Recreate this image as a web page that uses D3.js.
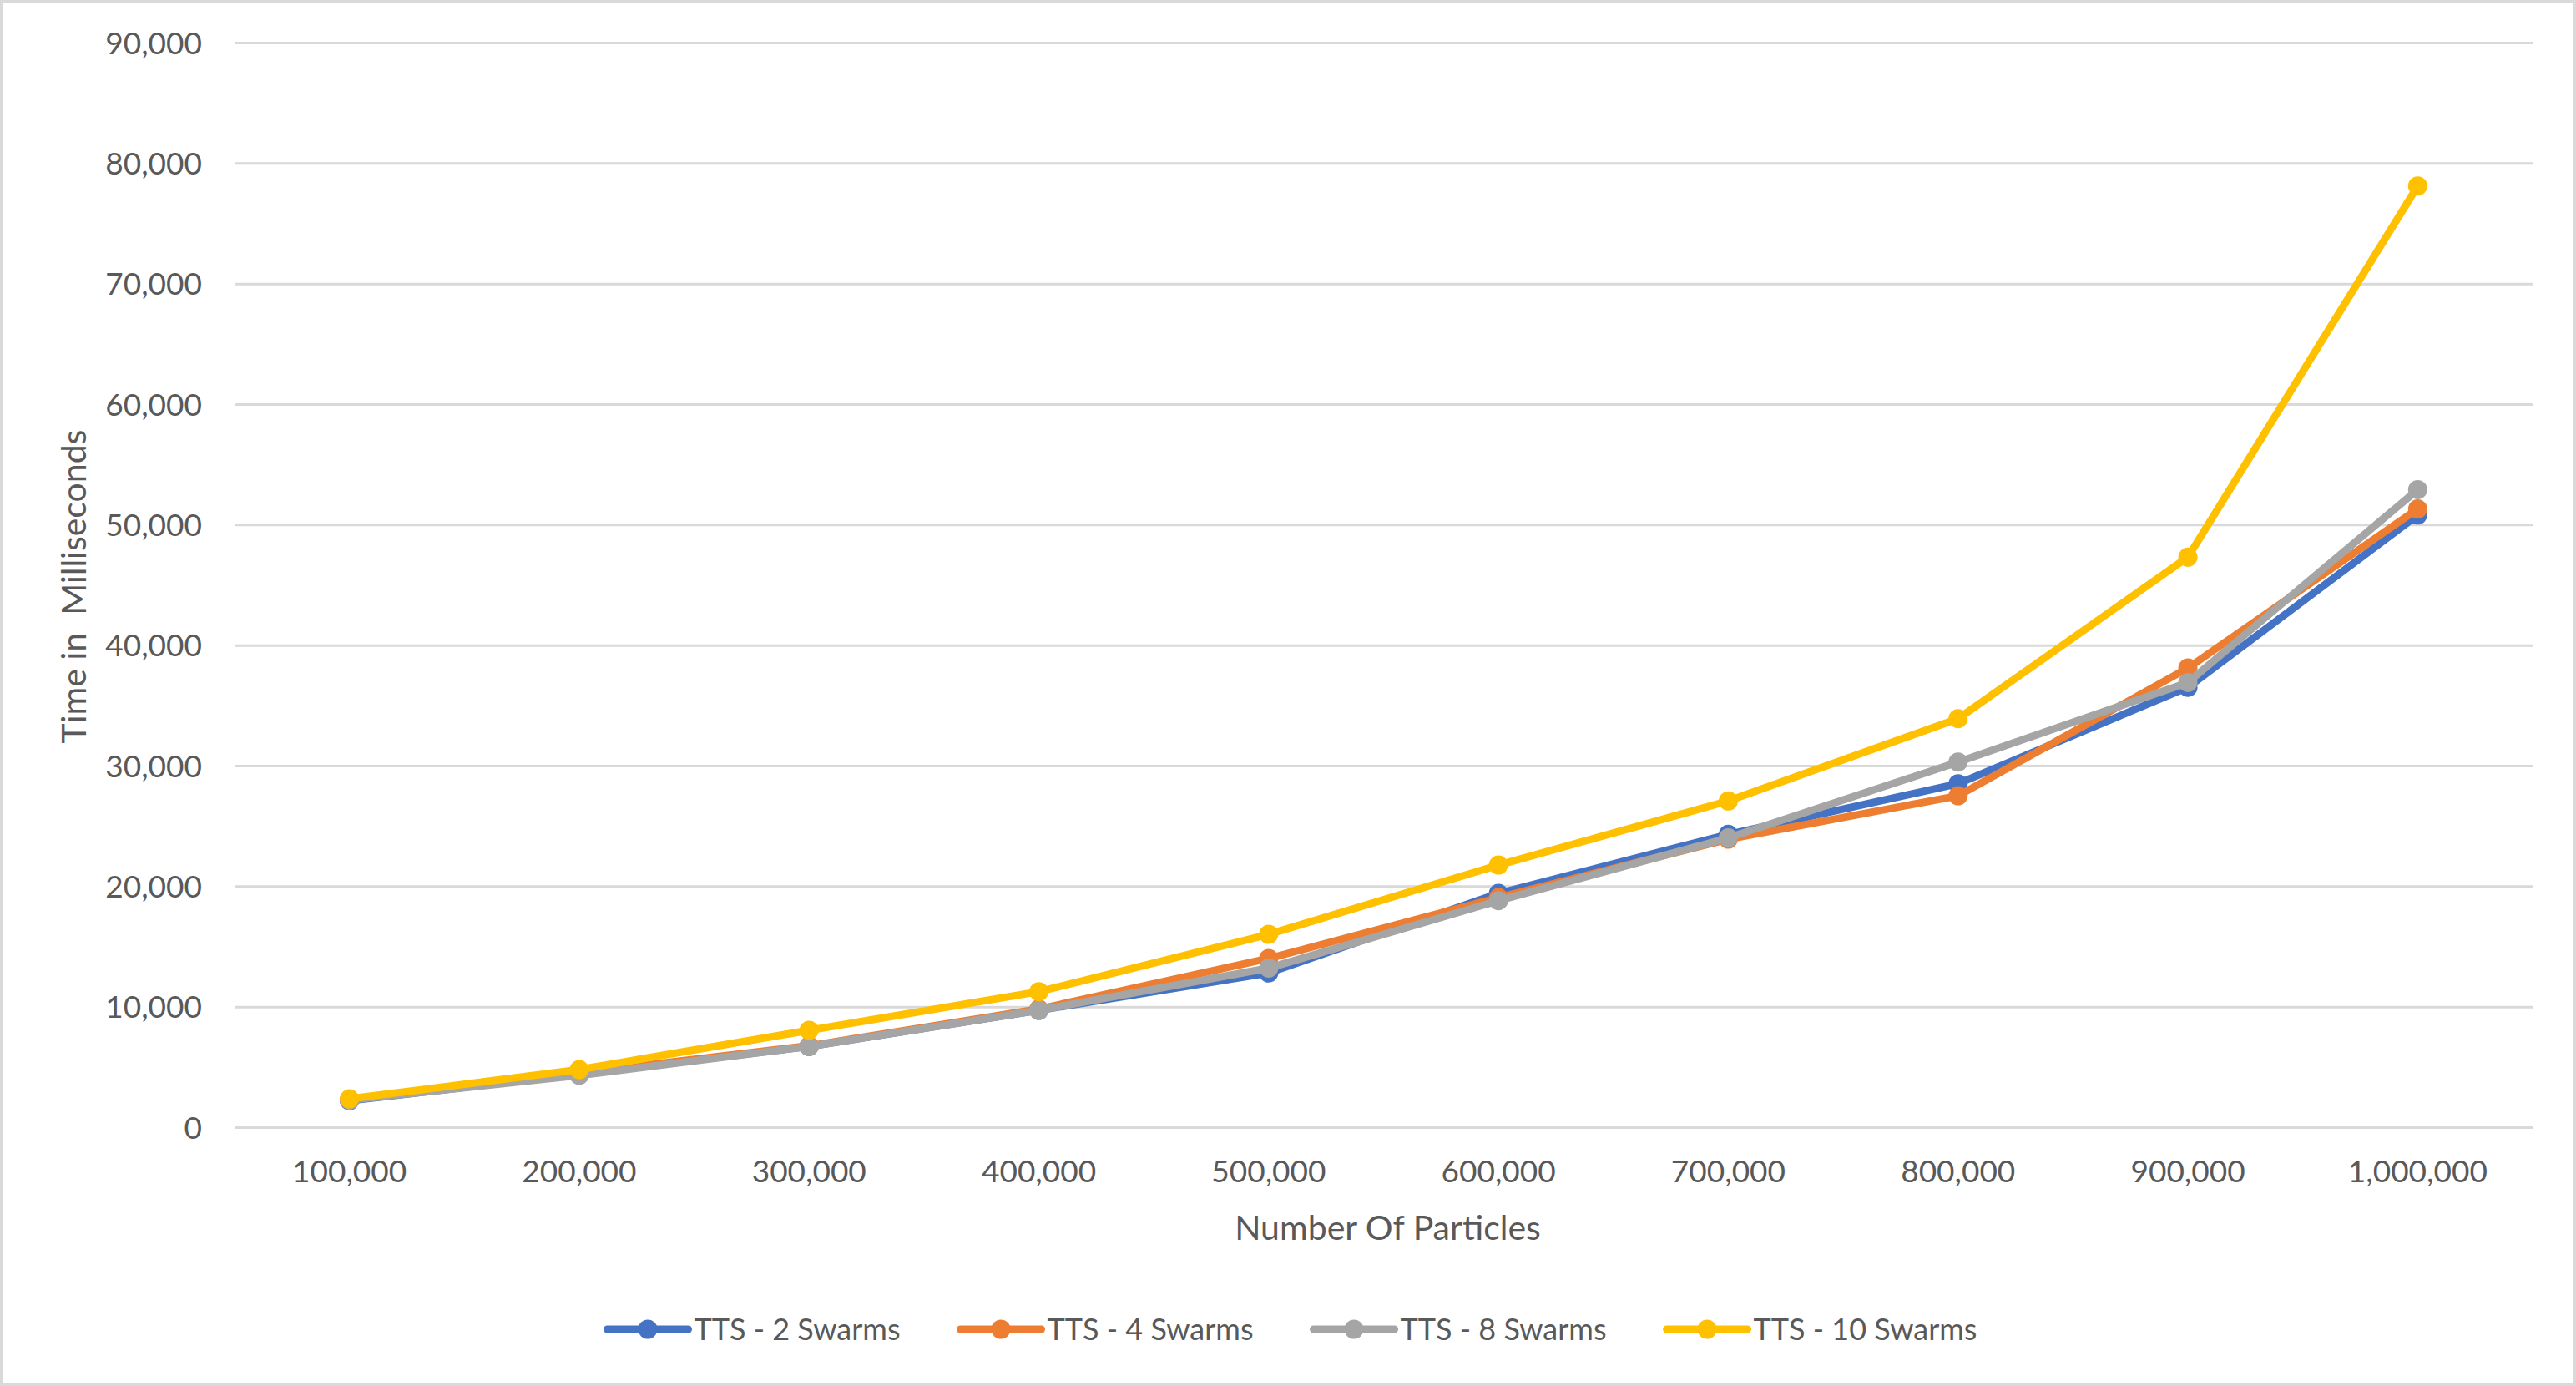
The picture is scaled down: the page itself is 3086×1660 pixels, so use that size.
<!DOCTYPE html>
<html lang="en">
<head>
  <meta charset="utf-8">
  <title>TTS swarms</title>
  <script src="https://d3js.org/d3.v7.min.js"></script>
  <style>
    body { margin: 0; background: #fff; }
    text { font-family: Lato, "Open Sans", sans-serif; fill: #595959; }
  </style>
</head>
<body>
<script type="text/javascript">
  var w = 3086;
  var h = 1660;

  // data
  var particles = ["100,000","200,000","300,000","400,000","500,000","600,000","700,000","800,000","900,000","1,000,000"];
  var tts2  = [2200, 4400, 6700, 9700, 12800, 19400, 24300, 28500, 36500, 50800];
  var tts4  = [2300, 4500, 6750, 9800, 14000, 19050, 23900, 27500, 38100, 51300];
  var tts8  = [2250, 4300, 6700, 9700, 13200, 18800, 24000, 30300, 36900, 52900];
  var tts10 = [2350, 4780, 8040, 11250, 16000, 21750, 27070, 33900, 47300, 78100];
  var seriesNames = ["TTS - 2 Swarms", "TTS - 4 Swarms", "TTS - 8 Swarms", "TTS - 10 Swarms"];
  var yTicks = [0, 10000, 20000, 30000, 40000, 50000, 60000, 70000, 80000, 90000];

  var colors = ["#4472C4", "#ED7D31", "#A5A5A5", "#FFC000"];
  var series = [tts2, tts4, tts8, tts10].map(function(vals, i){
    return { name: seriesNames[i], color: colors[i], values: vals };
  });

  var plotLeft = 281, plotRight = 3034, plotTop = 51, plotBottom = 1350;

  var svg = d3.select("body")
    .append("svg")
    .attr("width", w)
    .attr("height", h);

  svg.append("rect")
    .attr("x", 1.5).attr("y", 1.5)
    .attr("width", w - 3).attr("height", h - 3)
    .attr("fill", "#fff")
    .attr("stroke", "#d9d9d9")
    .attr("stroke-width", 3);

  var x = d3.scaleBand().domain(particles).range([plotLeft, plotRight]);
  var y = d3.scaleLinear().domain([0, 90000]).range([plotBottom, plotTop]);
  function cx(i){ return x(particles[i]) + x.bandwidth() / 2; }

  // gridlines + y labels
  var yAxis = svg.append("g")
    .attr("transform", "translate(" + plotLeft + ",0)")
    .call(d3.axisLeft(y).tickValues(yTicks).tickSize(-(plotRight - plotLeft)).tickPadding(39).tickFormat(d3.format(",")));
  yAxis.select(".domain").remove();
  yAxis.selectAll("line").attr("stroke", "#d9d9d9").attr("stroke-width", 3);
  yAxis.selectAll("text")
    .attr("font-size", "37px")
    .attr("dy", "0.36em")
    .style("fill", "#595959");

  // x labels
  var xAxis = svg.append("g")
    .attr("transform", "translate(0," + plotBottom + ")")
    .call(d3.axisBottom(x).tickSize(0));
  xAxis.select(".domain").remove();
  xAxis.selectAll("text")
    .attr("font-size", "37px")
    .attr("y", 66)
    .attr("dy", null)
    .style("fill", "#595959");

  // axis titles
  svg.append("text")
    .text("Number Of Particles")
    .attr("x", (plotLeft + plotRight) / 2 + 5)
    .attr("y", 1485)
    .attr("text-anchor", "middle")
    .attr("font-size", "41px");

  svg.append("text")
    .text("Time in  Milliseconds")
    .style("white-space", "pre")
    .attr("transform", "translate(103," + ((plotTop + plotBottom) / 2 + 2) + ") rotate(-90)")
    .attr("text-anchor", "middle")
    .attr("font-size", "41px");

  // lines and markers
  var line = d3.line()
    .x(function(d, i){ return cx(i); })
    .y(function(d){ return y(d); });

  series.forEach(function(s){
    var g = svg.append("g");
    g.append("path")
      .datum(s.values)
      .attr("d", line)
      .attr("fill", "none")
      .attr("stroke", s.color)
      .attr("stroke-width", 9)
      .attr("stroke-linejoin", "round")
      .attr("stroke-linecap", "round");
    g.selectAll("circle")
      .data(s.values)
      .enter()
      .append("circle")
      .attr("cx", function(d, i){ return cx(i); })
      .attr("cy", function(d){ return y(d); })
      .attr("r", 11.5)
      .attr("fill", s.color);
  });

  // legend
  var legY = 1592, lineLen = 97, textGap = 7, itemGap = 72;
  var legend = svg.append("g");
  var items = legend.selectAll("g")
    .data(series)
    .enter()
    .append("g");
  items.append("line")
    .attr("x1", 0).attr("x2", lineLen)
    .attr("y1", 0).attr("y2", 0)
    .attr("stroke", function(d){ return d.color; })
    .attr("stroke-width", 9)
    .attr("stroke-linecap", "round");
  items.append("circle")
    .attr("cx", lineLen / 2).attr("cy", 0)
    .attr("r", 11.5)
    .attr("fill", function(d){ return d.color; });
  items.append("text")
    .text(function(d){ return d.name; })
    .attr("x", lineLen + textGap)
    .attr("y", 0)
    .attr("dy", "0.36em")
    .attr("font-size", "36px");

  var offsets = [], pos = 0;
  items.each(function(){
    offsets.push(pos);
    var tw = d3.select(this).select("text").node().getComputedTextLength();
    pos += lineLen + textGap + tw + itemGap;
  });
  var total = pos - itemGap;
  var startX = 1548 - total / 2;
  items.attr("transform", function(d, i){ return "translate(" + (startX + offsets[i]) + "," + legY + ")"; });
</script>
</body>
</html>
